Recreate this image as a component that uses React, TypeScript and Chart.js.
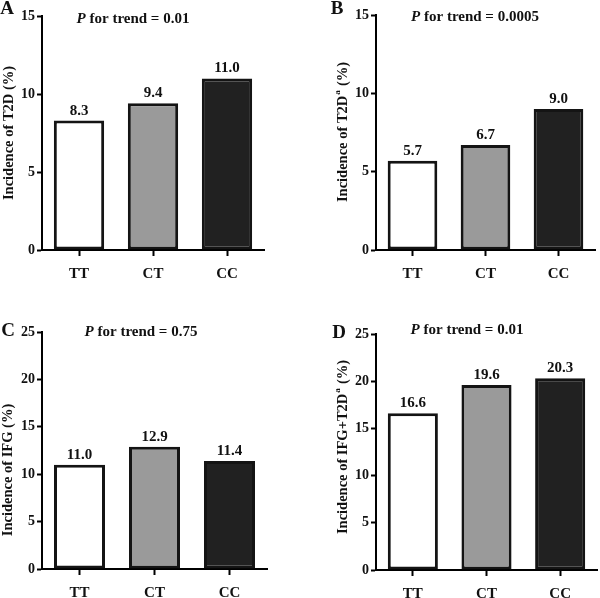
import React, { useEffect, useRef } from "react";
import { Chart, registerables } from "chart.js";

Chart.register(...registerables);

// ---------- data ----------
const categories = ["TT", "CT", "CC"];
const valuesA = [8.3, 9.4, 11.0];
const valuesB = [5.7, 6.7, 9.0];
const valuesC = [11.0, 12.9, 11.4];
const valuesD = [16.6, 19.6, 20.3];
const yMaxAB = 15;
const yMaxCD = 25;
const yStep = 5;
const trendA = "0.01";
const trendB = "0.0005";
const trendC = "0.75";
const trendD = "0.01";
const titleA = ["Incidence of T2D", "", " (%)"];
const titleB = ["Incidence of T2D", "a", " (%)"];
const titleC = ["Incidence of IFG", "", " (%)"];
const titleD = ["Incidence of IFG+T2D", "a", " (%)"];
const barColors = ["#ffffff", "#9a9a9a", "#212121"];

const SERIF = '"Liberation Serif", "Times New Roman", Times, serif';
const TEXT = "#111111";
const CW = 300;
const CH = 299;

type Panel = {
  letter: string;
  values: number[];
  max: number;
  trend: string;
  title: string[];
  left: number;
  top: number;
  area: { l: number; r: number; t: number; b: number };
  letterPos: [number, number];
  trendPos: [number, number];
  titlePos: [number, number];
};

const panels: Panel[] = [
  {
    letter: "A", values: valuesA, max: yMaxAB, trend: trendA, title: titleA,
    left: 0, top: 0,
    area: { l: 42, r: 264, t: 16, b: 250 },
    letterPos: [7, 9], trendPos: [133, 19], titlePos: [9, 133],
  },
  {
    letter: "B", values: valuesB, max: yMaxAB, trend: trendB, title: titleB,
    left: 300, top: 0,
    area: { l: 76, r: 295, t: 15, b: 250 },
    letterPos: [37, 9], trendPos: [175, 17], titlePos: [43, 132],
  },
  {
    letter: "C", values: valuesC, max: yMaxCD, trend: trendC, title: titleC,
    left: 0, top: 299,
    area: { l: 42, r: 267, t: 33, b: 270 },
    letterPos: [8, 32], trendPos: [141, 33], titlePos: [8, 171],
  },
  {
    letter: "D", values: valuesD, max: yMaxCD, trend: trendD, title: titleD,
    left: 300, top: 299,
    area: { l: 76, r: 297, t: 35, b: 271 },
    letterPos: [39, 34], trendPos: [167, 31], titlePos: [43, 148],
  },
];

const decorPlugin = {
  id: "panelDecor",
  afterDraw(chart: any, _args: any, opts: any) {
    const ctx = chart.ctx as CanvasRenderingContext2D;
    ctx.save();
    ctx.fillStyle = TEXT;

    // value labels above bars
    const meta = chart.getDatasetMeta(0);
    ctx.font = `bold 15px ${SERIF}`;
    ctx.textAlign = "center";
    ctx.textBaseline = "alphabetic";
    meta.data.forEach((bar: any, i: number) => {
      const v = chart.data.datasets[0].data[i] as number;
      ctx.fillText(v.toFixed(1), bar.x, bar.y - 6);
    });

    // panel letter
    ctx.font = `bold 19px ${SERIF}`;
    ctx.textAlign = "center";
    ctx.textBaseline = "middle";
    ctx.fillText(opts.letter, opts.letterPos[0], opts.letterPos[1]);

    // P for trend
    const pFont = `italic bold 15px ${SERIF}`;
    const restFont = `bold 15px ${SERIF}`;
    const rest = ` for trend = ${opts.trend}`;
    ctx.font = pFont;
    const wp = ctx.measureText("P").width;
    ctx.font = restFont;
    const wr = ctx.measureText(rest).width;
    const x = opts.trendPos[0] - (wp + wr) / 2;
    ctx.textAlign = "left";
    ctx.font = pFont;
    ctx.fillText("P", x, opts.trendPos[1]);
    ctx.font = restFont;
    ctx.fillText(rest, x + wp, opts.trendPos[1]);

    // rotated y-axis title with optional superscript
    const parts: string[] = opts.title;
    const mainFont = `bold 14.5px ${SERIF}`;
    const supFont = `bold 9px ${SERIF}`;
    ctx.translate(opts.titlePos[0], opts.titlePos[1]);
    ctx.rotate(-Math.PI / 2);
    ctx.font = mainFont;
    const w0 = ctx.measureText(parts[0]).width;
    const w2 = ctx.measureText(parts[2]).width;
    ctx.font = supFont;
    const w1 = parts[1] ? ctx.measureText(parts[1]).width + 1.5 : 0;
    let tx = -(w0 + w1 + w2) / 2;
    ctx.textAlign = "left";
    ctx.textBaseline = "middle";
    ctx.font = mainFont;
    ctx.fillText(parts[0], tx, 0);
    tx += w0;
    if (parts[1]) {
      ctx.font = supFont;
      ctx.fillText(parts[1], tx + 1, -5);
      tx += w1;
    }
    ctx.font = mainFont;
    ctx.fillText(parts[2], tx, 0);
    ctx.restore();
  },
};

function PanelChart({ p }: { p: Panel }) {
  const ref = useRef<HTMLCanvasElement | null>(null);
  useEffect(() => {
    if (!ref.current) return;
    const chart = new Chart(ref.current, {
      type: "bar",
      data: {
        labels: categories,
        datasets: [
          {
            data: p.values,
            backgroundColor: barColors,
            borderColor: "#141414",
            borderWidth: 3,
            borderSkipped: false,
            barPercentage: 0.68,
            categoryPercentage: 1,
          },
        ],
      },
      options: {
        responsive: false,
        animation: false,
        events: [],
        layout: {
          padding: { left: 0, top: p.area.t, right: CW - p.area.r, bottom: 0 },
        },
        plugins: {
          legend: { display: false },
          tooltip: { enabled: false },
          // @ts-ignore
          panelDecor: {
            letter: p.letter,
            letterPos: p.letterPos,
            trend: p.trend,
            trendPos: p.trendPos,
            title: p.title,
            titlePos: p.titlePos,
          },
        },
        scales: {
          x: {
            grid: {
              display: true,
              drawOnChartArea: false,
              drawTicks: true,
              tickLength: 6,
              tickWidth: 2,
              tickColor: "#000",
              offset: false,
            },
            border: { display: true, color: "#000", width: 2 },
            ticks: {
              color: TEXT,
              font: { family: SERIF, size: 15, weight: "bold" },
              padding: 9,
            },
            afterFit: (s: any) => {
              s.height = CH - p.area.b;
            },
          },
          y: {
            min: 0,
            max: p.max,
            ticks: {
              stepSize: yStep,
              color: TEXT,
              font: { family: SERIF, size: 14, weight: "bold" },
              padding: 2,
            },
            grid: {
              display: true,
              drawOnChartArea: false,
              drawTicks: true,
              tickLength: 5,
              tickWidth: 2,
              tickColor: "#000",
            },
            border: { display: true, color: "#000", width: 2 },
            afterFit: (s: any) => {
              s.width = p.area.l;
            },
          },
        },
      } as any,
      plugins: [decorPlugin as any],
    });
    return () => chart.destroy();
  }, [p]);
  return (
    <canvas
      ref={ref}
      width={CW}
      height={CH}
      style={{ position: "absolute", left: p.left, top: p.top, width: CW, height: CH }}
    />
  );
}

export default function App() {
  return (
    <div
      style={{
        position: "absolute",
        left: 0,
        top: 0,
        width: 600,
        height: 598,
        background: "#ffffff",
        overflow: "hidden",
      }}
    >
      {panels.map((p) => (
        <PanelChart key={p.letter} p={p} />
      ))}
    </div>
  );
}
